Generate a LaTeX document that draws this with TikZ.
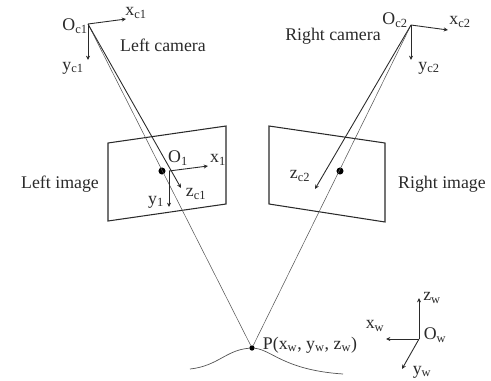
\documentclass[tikz,border=0pt]{standalone}
\usepackage{fontspec}
\setmainfont{Liberation Serif}
\usepackage{xcolor}
\usetikzlibrary{arrows.meta}
\definecolor{ink}{HTML}{2A2A2A}
\newcommand{\sbs}[1]{\textsubscript{#1}}

\begin{document}
\begin{tikzpicture}[x=0.03cm, y=-0.03cm, font=\fontsize{15.2}{17}\selectfont, text=ink, >={Stealth[length=1.3mm,width=1.2mm]},
  lbl/.style={inner sep=0pt, align=center},
  pt/.style={circle, fill=black, inner sep=0pt, minimum size=#1},
  axis/.style={->, draw=ink, line width=0.75pt},
  ray/.style={draw=ink!80, line width=0.45pt},
  plane/.style={draw=ink, line width=0.9pt}]
\useasboundingbox (0,0) rectangle (491,380);
% image planes
\coordinate (la) at (108,143);
\coordinate (lb) at (226,126);
\coordinate (lc) at (226,204);
\coordinate (ld) at (108,221);
\draw[plane] (la) -- (lb) -- (lc) -- (ld) -- cycle;
\coordinate (ra) at (269,126);
\coordinate (rb) at (385,143);
\coordinate (rc) at (385,222);
\coordinate (rd) at (269,204);
\draw[plane] (ra) -- (rb) -- (rc) -- (rd) -- cycle;
% origins and axis ends
\coordinate (oc1) at (88,24);
\coordinate (xc1) at (126,19);
\coordinate (yc1) at (88,60);
\coordinate (zc1) at (181,188);
\coordinate (ol) at (169,171);
\coordinate (xl) at (208,166);
\coordinate (yl) at (169,207);
\coordinate (oc2) at (411,25);
\coordinate (xc2) at (448,30);
\coordinate (yc2) at (411,60);
\coordinate (zc2) at (315,189);
\coordinate (ow) at (419,339);
\coordinate (xw) at (386,339);
\coordinate (yw) at (402,369);
\coordinate (zw) at (419,298);
\node[pt=6pt] (dl) at (162,171) {};
\node[pt=6pt] (dr) at (340,171) {};
\node[pt=4.5pt] (p) at (252,348) {};
% rays
\draw[ray] (oc1) -- (p);
\draw[ray] (oc2) -- (p);
% axes
\draw[axis] (oc1) -- (xc1);
\draw[axis] (oc1) -- (yc1);
\draw[axis] (oc1) -- (zc1);
\draw[axis] (ol) -- (xl);
\draw[axis] (ol) -- (yl);
\draw[axis] (oc2) -- (xc2);
\draw[axis] (oc2) -- (yc2);
\draw[axis] (oc2) -- (zc2);
\draw[axis] (ow) -- (xw);
\draw[axis] (ow) -- (yw);
\draw[axis] (ow) -- (zw);
% surface
\coordinate (sa) at (190,369);
\coordinate (sb) at (343,374);
\draw[ray, line width=0.6pt] (sa) .. controls (218,366) and (226,350) .. (p) .. controls (272,350) and (284,370) .. (sb);
% labels
\node[lbl] (loc1) at (75,26) {O\sbs{c1}};
\node[lbl] (lxc1) at (136,13) {x\sbs{c1}};
\node[lbl] (lyc1) at (73,68) {y\sbs{c1}};
\node[lbl] (lcam) at (163,45) {Left camera};
\node[lbl] (limg) at (60,184) {Left image};
\node[lbl] (lol) at (178,158) {O\sbs{1}};
\node[lbl] (lxl) at (218,160) {x\sbs{1}};
\node[lbl] (lyl) at (156,202) {y\sbs{1}};
\node[lbl] (lzc1) at (196,194) {z\sbs{c1}};
\node[lbl] (loc2) at (395,20) {O\sbs{c2}};
\node[lbl] (lxc2) at (460,22) {x\sbs{c2}};
\node[lbl] (lyc2) at (429,68) {y\sbs{c2}};
\node[lbl] (rcam) at (333,36) {Right camera};
\node[lbl] (rimg) at (442,184) {Right image};
\node[lbl] (lzc2) at (300,176) {z\sbs{c2}};
\node[lbl] (lp) at (310,345) {P(x\sbs{w}, y\sbs{w}, z\sbs{w})};
\node[lbl] (lzw) at (432,298) {z\sbs{w}};
\node[lbl] (lxw) at (375,326) {x\sbs{w}};
\node[lbl] (low) at (435,335) {O\sbs{w}};
\node[lbl] (lyw) at (422,372) {y\sbs{w}};
\end{tikzpicture}
\end{document}
